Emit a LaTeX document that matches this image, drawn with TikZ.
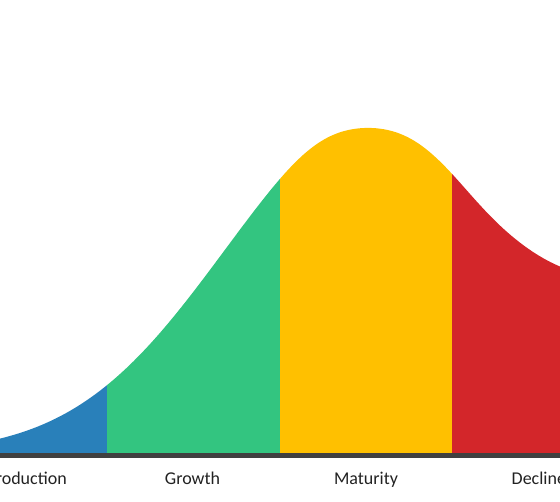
\documentclass[tikz,border=0pt]{standalone}
\usepackage{fontspec}
\setmainfont{Carlito}
\definecolor{cblue}{HTML}{2980BA}
\definecolor{cgreen}{HTML}{33C580}
\definecolor{cyellow}{HTML}{FFC000}
\definecolor{cred}{HTML}{D3262A}
\definecolor{caxis}{HTML}{404040}
\definecolor{ctext}{HTML}{222222}
\tikzset{
  lbl/.style={inner sep=0pt, text=ctext, font=\fontsize{18}{20}\selectfont},
  axisline/.style={line width=4.5pt, draw=caxis}
}
\begin{document}
\begin{tikzpicture}[x=1pt,y=-1pt,
  declare function={
    fl(\u)=1-0.3*exp(-(\u)^2/0.4);
    tl(\u)=1-0.063*ln(1+exp((\u-1.1)/0.15));
    bh(\u)=325*exp(-0.23*(\u)^2*fl(\u)*tl(\u));
  }]
\useasboundingbox (0,0) rectangle (560,502);
\clip (0,0) rectangle (560,502);
\begin{scope}
\clip (-5,456) -- plot[domain=-5:575, samples=240, variable=\x] (\x, {453-bh((\x-368)/100)}) -- (575,456) -- cycle;
\fill[cblue] (-5,0) rectangle (107.3,460);
\fill[cgreen] (107.3,0) rectangle (280,460);
\fill[cyellow] (280,0) rectangle (452,460);
\fill[cred] (452,0) rectangle (575,460);
\end{scope}
\coordinate (axl) at (-5,455.5);
\coordinate (axr) at (575,455.5);
\draw[axisline] (axl) -- (axr);
\node[lbl, anchor=base east] (intro) at (67,484.7) {Introduction};
\node[lbl, anchor=base] (growth) at (192.5,484.7) {Growth};
\node[lbl, anchor=base] (maturity) at (366,484.7) {Maturity};
\node[lbl, anchor=base west] (decline) at (511.5,484.7) {Decline};
\end{tikzpicture}
\end{document}
